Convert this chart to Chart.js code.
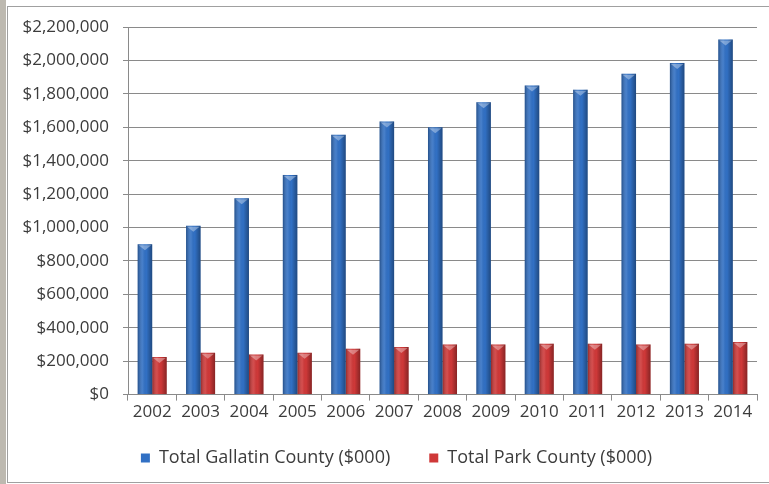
<!DOCTYPE html>
<html>
<head>
<meta charset="utf-8">
<script src="https://cdn.jsdelivr.net/npm/chart.js@4"></script>
<style>
  body { margin: 0; width: 769px; height: 484px; background: #fff; overflow: hidden; position: relative; }
  #strip { position: absolute; left: 0; top: 0; width: 6px; height: 484px; background: #bdb9b0; }
  #frame { position: absolute; left: 7px; top: 6px; right: -2px; bottom: 1px; border: 1px solid #a0a0a0; border-right: none; }
  #wrap { position: absolute; left: 0; top: 0; width: 769px; height: 484px; }
</style>
</head>
<body>
<div id="strip"></div>
<div id="frame"></div>
<div id="wrap"><canvas id="chart"></canvas></div>
<script>
// Chart data
const years = ['2002', '2003', '2004', '2005', '2006', '2007', '2008', '2009', '2010', '2011', '2012', '2013', '2014'];
const gallatin = [900000, 1010000, 1175000, 1315000, 1555000, 1635000, 1600000, 1750000, 1850000, 1825000, 1920000, 1985000, 2125000];
const park = [225000, 250000, 240000, 250000, 275000, 285000, 300000, 300000, 305000, 305000, 300000, 305000, 315000];
const yTicks = [0, 200000, 400000, 600000, 800000, 1000000, 1200000, 1400000, 1600000, 1800000, 2000000, 2200000];

const textColor = '#3c3c3c';
const fontFamily = '"Open Sans", sans-serif';

// Shade each bar so it looks like a rounded column
const shadePlugin = {
  id: 'shade',
  afterDatasetsDraw(chart) {
    const ctx = chart.ctx;
    chart.data.datasets.forEach((ds, di) => {
      const meta = chart.getDatasetMeta(di);
      meta.data.forEach(bar => {
        const left = bar.x - bar.width / 2;
        const top = bar.y;
        const h = bar.base - bar.y;
        const g = ctx.createLinearGradient(left, 0, left + bar.width, 0);
        g.addColorStop(0, 'rgba(0,0,0,0.30)');
        g.addColorStop(0.35, 'rgba(255,255,255,0.10)');
        g.addColorStop(0.6, 'rgba(0,0,0,0)');
        g.addColorStop(1, 'rgba(0,0,0,0.35)');
        ctx.save();
        ctx.fillStyle = g;
        ctx.fillRect(left, top, bar.width, h);
        // small lighter bevel at the top
        ctx.fillStyle = 'rgba(255,255,255,0.35)';
        ctx.beginPath();
        ctx.moveTo(left + 1, top + 1);
        ctx.lineTo(left + bar.width - 1, top + 1);
        ctx.lineTo(bar.x, top + 6);
        ctx.closePath();
        ctx.fill();
        ctx.restore();
      });
    });
  }
};

// Nudge the legend box into place
const legendShift = {
  id: 'legendShift',
  afterLayout(chart) {
    const lg = chart.legend;
    lg.left += 18;
    lg.right += 18;
    lg.top -= 13;
    lg.bottom -= 13;
  }
};

const chart = new Chart(document.getElementById('chart'), {
  type: 'bar',
  data: {
    labels: years,
    datasets: [{
      label: 'Total Gallatin County ($000)',
      data: gallatin,
      backgroundColor: '#3170c4',
      categoryPercentage: 0.6,
      barPercentage: 1
    }, {
      label: 'Total Park County ($000)',
      data: park,
      backgroundColor: '#cf3838',
      categoryPercentage: 0.6,
      barPercentage: 1
    }]
  },
  options: {
    responsive: true,
    maintainAspectRatio: false,
    animation: false,
    layout: {
      padding: { top: 27, right: 12, bottom: -6, left: 0 }
    },
    scales: {
      x: {
        grid: {
          offset: true,
          drawOnChartArea: false,
          color: '#8a8a8a',
          tickLength: 6
        },
        border: { color: '#8a8a8a' },
        ticks: {
          color: textColor,
          font: { family: fontFamily, size: 17 },
          padding: 1
        }
      },
      y: {
        min: 0,
        max: 2200000,
        afterBuildTicks(scale) {
          scale.ticks = yTicks.map(v => ({ value: v }));
        },
        afterFit(scale) {
          scale.width = 128;
        },
        grid: {
          color: '#8a8a8a',
          tickLength: 5
        },
        border: { color: '#8a8a8a' },
        ticks: {
          color: textColor,
          font: { family: fontFamily, size: 17 },
          padding: 14,
          callback: v => '$' + v.toLocaleString('en-US')
        }
      }
    },
    plugins: {
      legend: {
        position: 'bottom',
        labels: {
          color: textColor,
          font: { family: fontFamily, size: 18 },
          boxWidth: 9,
          boxHeight: 9,
          padding: 39
        }
      },
      tooltip: { enabled: false }
    }
  },
  plugins: [shadePlugin, legendShift]
});
</script>
</body>
</html>
